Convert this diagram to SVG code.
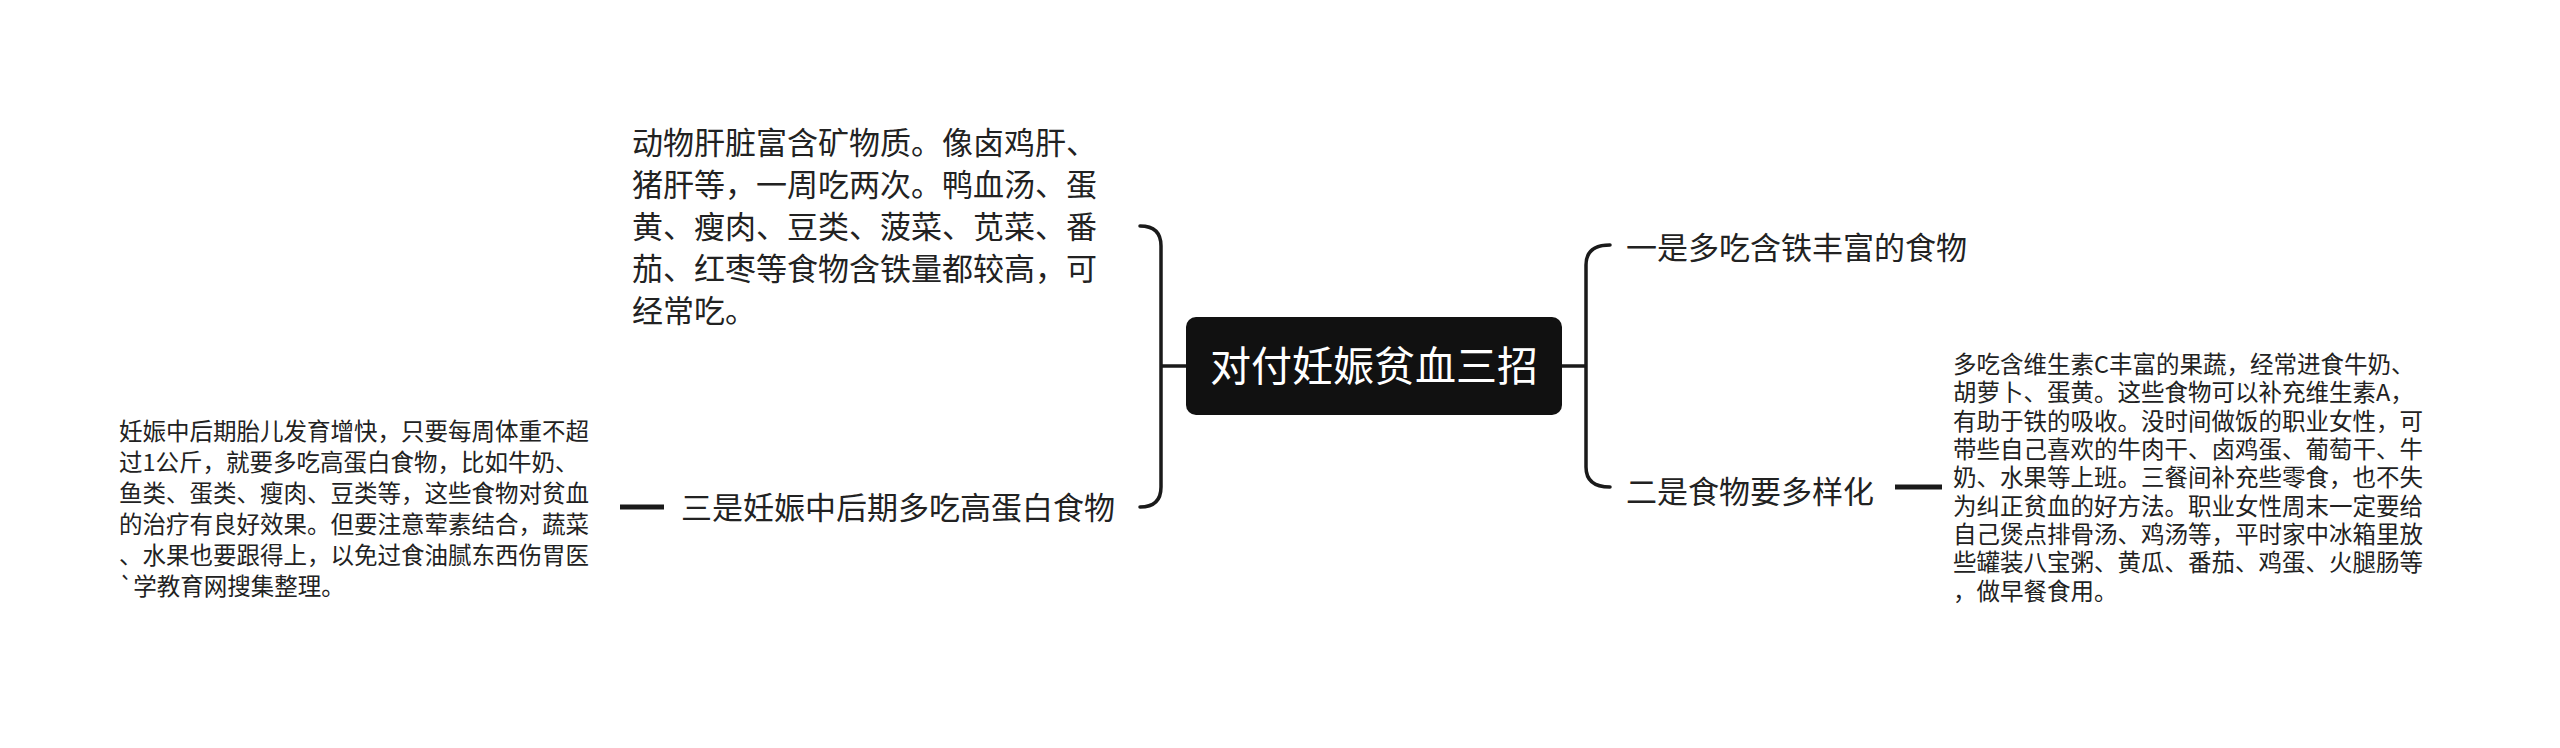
<svg xmlns="http://www.w3.org/2000/svg" width="2560" height="748" viewBox="0 0 2560 748">
<style>
text{font-family:"Noto Sans CJK SC","Noto Sans",sans-serif;fill:#222}
.c{stroke:#1a1a1a;stroke-width:3.5;fill:none;stroke-linecap:round}
.d{stroke:#1a1a1a;stroke-width:5;fill:none}
.l{font-size:31px}
.p1{font-size:31px}
.p2{font-size:23.5px}
</style>
<rect width="2560" height="748" fill="#fff"/>
<g id="connectors">
<path class="c" d="M1186,366 H1161 M1140,226 Q1161,226 1161,246 V487 Q1161,507 1140,507"/>
<path class="c" d="M1562,366 H1586 M1610,245 Q1586,245 1586,265 V467 Q1586,487 1610,487"/>
<path class="d" d="M664,507 H620"/>
<path class="d" d="M1895,487 H1942"/>
</g>
<g id="root">
<rect x="1186" y="317" width="376" height="98" rx="10" fill="#111"/>
<text x="1374" y="381" text-anchor="middle" style="font-size:41px;fill:#fff">对付妊娠贫血三招</text>
</g>
<g id="n1">
<text class="l" x="1626" y="259">一是多吃含铁丰富的食物</text>
</g>
<g id="n2">
<text class="l" x="1626" y="503">二是食物要多样化</text>
</g>
<g id="n3">
<text class="l" x="681" y="519">三是妊娠中后期多吃高蛋白食物</text>
</g>
<g id="d1">
<text class="p1" x="632" y="154">动物肝脏富含矿物质。像卤鸡肝、</text>
<text class="p1" x="632" y="196">猪肝等，一周吃两次。鸭血汤、蛋</text>
<text class="p1" x="632" y="238">黄、瘦肉、豆类、菠菜、苋菜、番</text>
<text class="p1" x="632" y="280">茄、红枣等食物含铁量都较高，可</text>
<text class="p1" x="632" y="322">经常吃。</text>
</g>
<g id="d2">
<text class="p2" x="1953" y="373">多吃含维生素C丰富的果蔬，经常进食牛奶、</text>
<text class="p2" x="1953" y="401">胡萝卜、蛋黄。这些食物可以补充维生素A，</text>
<text class="p2" x="1953" y="430">有助于铁的吸收。没时间做饭的职业女性，可</text>
<text class="p2" x="1953" y="458">带些自己喜欢的牛肉干、卤鸡蛋、葡萄干、牛</text>
<text class="p2" x="1953" y="486">奶、水果等上班。三餐间补充些零食，也不失</text>
<text class="p2" x="1953" y="515">为纠正贫血的好方法。职业女性周末一定要给</text>
<text class="p2" x="1953" y="543">自己煲点排骨汤、鸡汤等，平时家中冰箱里放</text>
<text class="p2" x="1953" y="571">些罐装八宝粥、黄瓜、番茄、鸡蛋、火腿肠等</text>
<text class="p2" x="1953" y="600">，做早餐食用。</text>
</g>
<g id="d3">
<text class="p2" x="119" y="440">妊娠中后期胎儿发育增快，只要每周体重不超</text>
<text class="p2" x="119" y="471">过1公斤，就要多吃高蛋白食物，比如牛奶、</text>
<text class="p2" x="119" y="502">鱼类、蛋类、瘦肉、豆类等，这些食物对贫血</text>
<text class="p2" x="119" y="533">的治疗有良好效果。但要注意荤素结合，蔬菜</text>
<text class="p2" x="119" y="564">、水果也要跟得上，以免过食油腻东西伤胃医</text>
<text class="p2" x="119" y="595">`学教育网搜集整理。</text>
</g>
</svg>
